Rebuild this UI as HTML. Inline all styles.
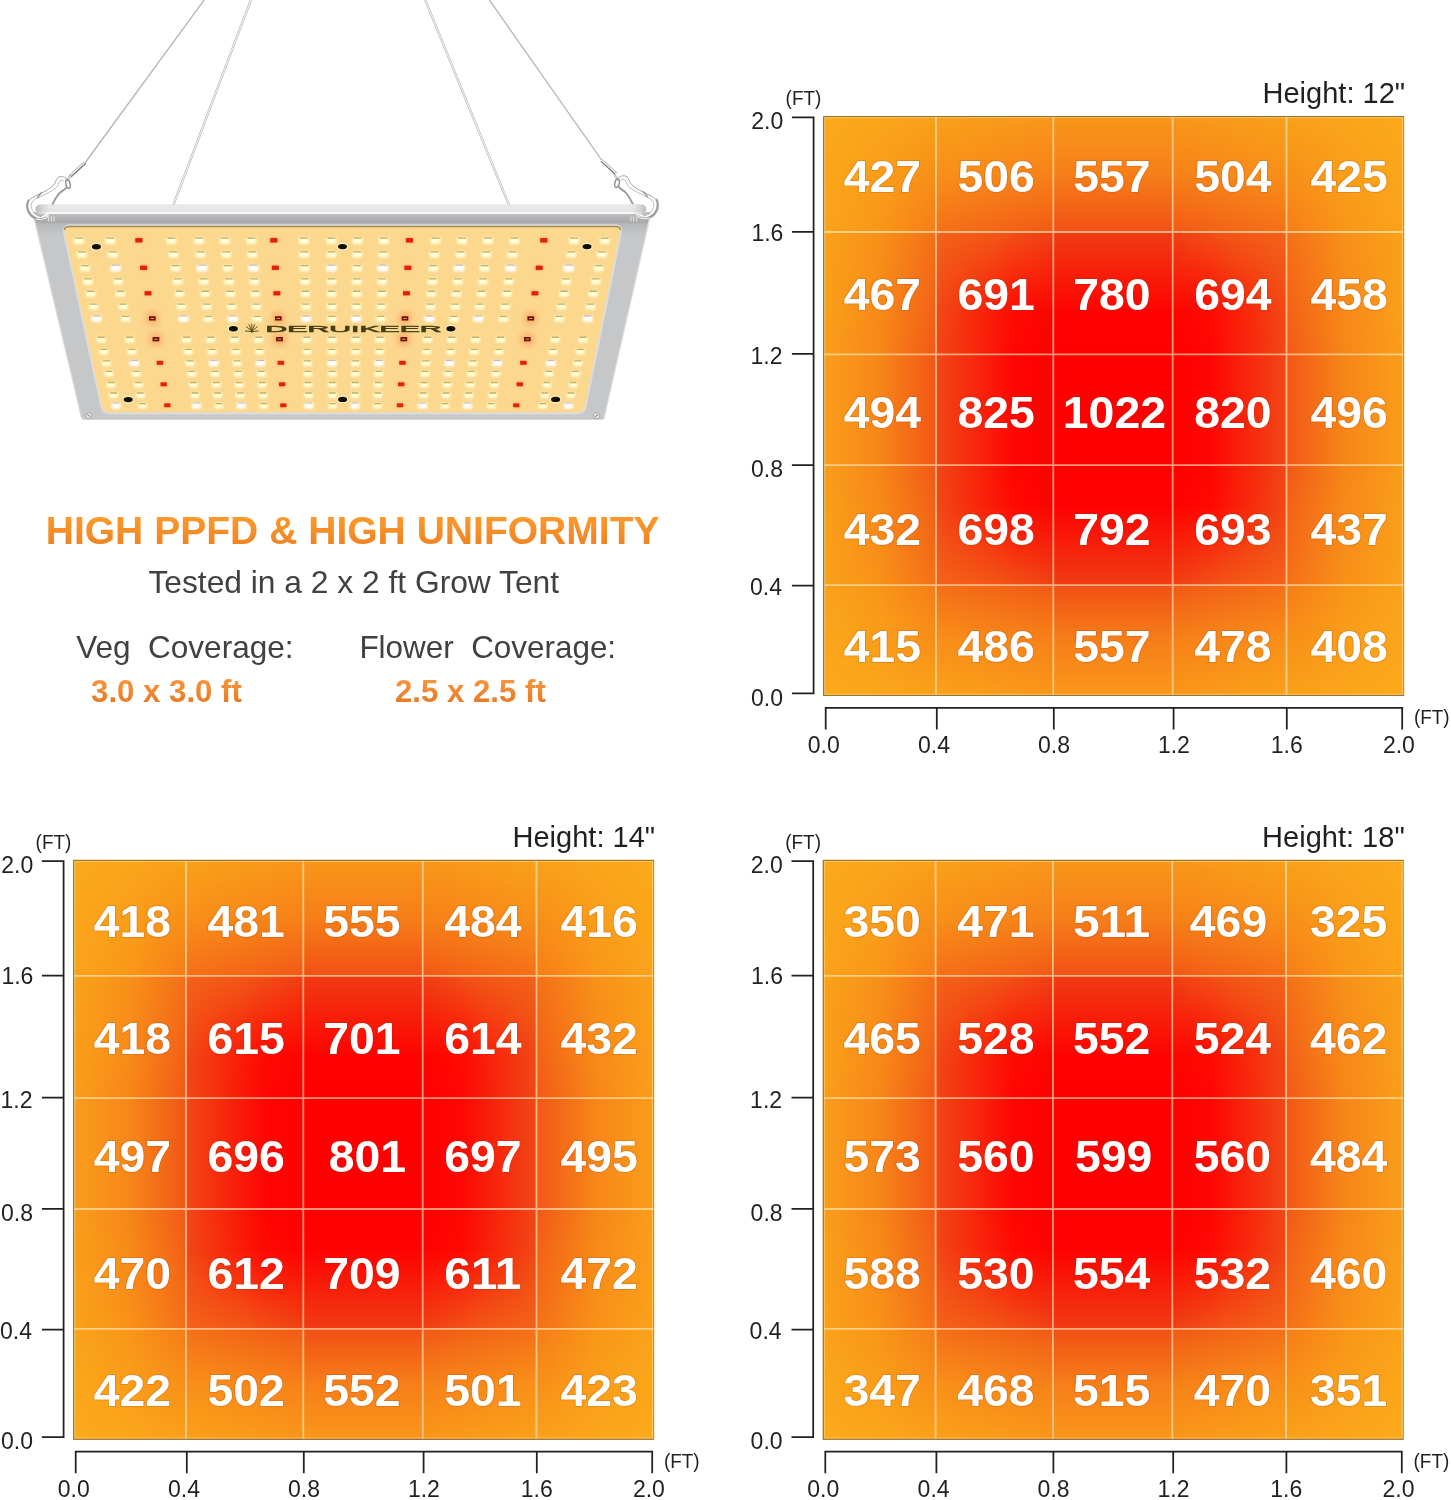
<!DOCTYPE html>
<html lang="en"><head><meta charset="utf-8"><title>High PPFD &amp; High Uniformity</title>
<style>
html,body{margin:0;padding:0;background:#fff}
body{width:1451px;height:1500px;overflow:hidden}
svg{display:block}
text{font-family:"Liberation Sans",Arial,Helvetica,sans-serif;fill:#231f20}
.ax text{font-size:24.4px}
.ft{font-size:21px}
.ht{font-size:28.7px}
.n text{font-size:43.9px;font-weight:bold;fill:#fff;stroke:#8a2a00;stroke-opacity:.22;stroke-width:1.6px;paint-order:stroke}
.h1{font-size:39.06px;font-weight:bold;fill:url(#og)}
.p{fill:#414042}
.b{font-size:31.2px;font-weight:bold;fill:url(#ob)}
</style></head>
<body>
<svg width="1451" height="1500" viewBox="0 0 1451 1500" role="img" aria-label="LED grow light PPFD maps">
<defs>
<linearGradient id="vk" x1="0" y1="0" x2="0" y2="1"><stop offset="0" stop-color="#000000"/><stop offset="1" stop-color="#ffffff"/></linearGradient>
<mask id="mk" maskContentUnits="objectBoundingBox" x="0" y="0" width="1" height="1"><rect x="0" y="0" width="1" height="1" fill="url(#vk)"/></mask>
<linearGradient id="vd" x1="0" y1="0" x2="0" y2="1"><stop offset="0" stop-color="#000000"/><stop offset="0.66" stop-color="#f5f5f5"/><stop offset="1" stop-color="#ffffff"/></linearGradient>
<mask id="md" maskContentUnits="objectBoundingBox" x="0" y="0" width="1" height="1"><rect x="0" y="0" width="1" height="1" fill="url(#vd)"/></mask>
<linearGradient id="vu" x1="0" y1="0" x2="0" y2="1"><stop offset="0" stop-color="#000000"/><stop offset="0.34" stop-color="#0a0a0a"/><stop offset="1" stop-color="#ffffff"/></linearGradient>
<mask id="mu" maskContentUnits="objectBoundingBox" x="0" y="0" width="1" height="1"><rect x="0" y="0" width="1" height="1" fill="url(#vu)"/></mask>
<linearGradient id="ve" x1="0" y1="0" x2="0" y2="1"><stop offset="0" stop-color="#000000"/><stop offset="0.5" stop-color="#575757"/><stop offset="1" stop-color="#ffffff"/></linearGradient>
<mask id="me" maskContentUnits="objectBoundingBox" x="0" y="0" width="1" height="1"><rect x="0" y="0" width="1" height="1" fill="url(#ve)"/></mask>
<linearGradient id="vf" x1="0" y1="0" x2="0" y2="1"><stop offset="0" stop-color="#000000"/><stop offset="0.5" stop-color="#a8a8a8"/><stop offset="1" stop-color="#ffffff"/></linearGradient>
<mask id="mf" maskContentUnits="objectBoundingBox" x="0" y="0" width="1" height="1"><rect x="0" y="0" width="1" height="1" fill="url(#vf)"/></mask>
<linearGradient id="g0"><stop offset="0" stop-color="#fcaa1b"/><stop offset="1" stop-color="#faa11a"/></linearGradient>
<linearGradient id="g1"><stop offset="0" stop-color="#faa31a"/><stop offset=".5" stop-color="#f99619"/><stop offset="1" stop-color="#f67c18"/></linearGradient>
<linearGradient id="g2"><stop offset="0" stop-color="#faa11a"/><stop offset="1" stop-color="#f9971a"/></linearGradient>
<linearGradient id="g3"><stop offset="0" stop-color="#f57018"/><stop offset="1" stop-color="#f25816"/></linearGradient>
<linearGradient id="g4"><stop offset="0" stop-color="#f9971a"/><stop offset="1" stop-color="#faa11a"/></linearGradient>
<linearGradient id="g5"><stop offset="0" stop-color="#f25816"/><stop offset="1" stop-color="#f57018"/></linearGradient>
<linearGradient id="g6"><stop offset="0" stop-color="#faa11a"/><stop offset="1" stop-color="#fcaa1b"/></linearGradient>
<linearGradient id="g7"><stop offset="0" stop-color="#f67c18"/><stop offset=".5" stop-color="#f99619"/><stop offset="1" stop-color="#faa31a"/></linearGradient>
<linearGradient id="g8"><stop offset="0" stop-color="#faa21a"/><stop offset=".5" stop-color="#f89119"/><stop offset="1" stop-color="#f57018"/></linearGradient>
<linearGradient id="g9"><stop offset="0" stop-color="#fa9e1b"/><stop offset=".5" stop-color="#f78619"/><stop offset="1" stop-color="#f25816"/></linearGradient>
<linearGradient id="g10"><stop offset="0" stop-color="#f36418"/><stop offset=".5" stop-color="#f25817"/><stop offset="1" stop-color="#f04014"/></linearGradient>
<linearGradient id="g11"><stop offset="0" stop-color="#f14816"/><stop offset="0.66" stop-color="#fe0703"/><stop offset="1" stop-color="#ff0000"/></linearGradient>
<linearGradient id="g12"><stop offset="0" stop-color="#f04014"/><stop offset=".5" stop-color="#f25817"/><stop offset="1" stop-color="#f36418"/></linearGradient>
<linearGradient id="g13"><stop offset="0" stop-color="#ff0000"/><stop offset="0.34" stop-color="#fe0703"/><stop offset="1" stop-color="#f14816"/></linearGradient>
<linearGradient id="g14"><stop offset="0" stop-color="#f57018"/><stop offset=".5" stop-color="#f89119"/><stop offset="1" stop-color="#faa21a"/></linearGradient>
<linearGradient id="g15"><stop offset="0" stop-color="#f25816"/><stop offset=".5" stop-color="#f78619"/><stop offset="1" stop-color="#fa9e1b"/></linearGradient>
<linearGradient id="g16"><stop offset="0" stop-color="#fa9e1b"/><stop offset=".5" stop-color="#f78619"/><stop offset="1" stop-color="#f25616"/></linearGradient>
<linearGradient id="g17"><stop offset="0" stop-color="#f25616"/><stop offset=".5" stop-color="#f78619"/><stop offset="1" stop-color="#fa9e1b"/></linearGradient>
<g id="chart"><rect x="823.1" y="116" width="113.2" height="116.3" fill="url(#g0)"/><rect x="823.1" y="116" width="113.2" height="116.3" fill="url(#g1)" mask="url(#mk)"/><rect x="935.7" y="116" width="117.9" height="116.3" fill="url(#g2)"/><rect x="935.7" y="116" width="117.9" height="116.3" fill="url(#g3)" mask="url(#me)"/><rect x="1053" y="116" width="120" height="116.3" fill="#f9971a"/><rect x="1053" y="116" width="120" height="116.3" fill="#f15016" mask="url(#me)"/><rect x="1172.4" y="116" width="114.4" height="116.3" fill="url(#g4)"/><rect x="1172.4" y="116" width="114.4" height="116.3" fill="url(#g5)" mask="url(#me)"/><rect x="1286.2" y="116" width="118" height="116.3" fill="url(#g6)"/><rect x="1286.2" y="116" width="118" height="116.3" fill="url(#g7)" mask="url(#mk)"/><rect x="823.1" y="231.7" width="113.2" height="122.9" fill="url(#g8)"/><rect x="823.1" y="231.7" width="113.2" height="122.9" fill="url(#g9)" mask="url(#mk)"/><rect x="935.7" y="231.7" width="117.9" height="122.9" fill="url(#g10)"/><rect x="935.7" y="231.7" width="117.9" height="122.9" fill="url(#g11)" mask="url(#md)"/><rect x="1053" y="231.7" width="120" height="122.9" fill="#f03c14"/><rect x="1053" y="231.7" width="120" height="122.9" fill="#ff0000" mask="url(#md)"/><rect x="1172.4" y="231.7" width="114.4" height="122.9" fill="url(#g12)"/><rect x="1172.4" y="231.7" width="114.4" height="122.9" fill="url(#g13)" mask="url(#md)"/><rect x="1286.2" y="231.7" width="118" height="122.9" fill="url(#g14)"/><rect x="1286.2" y="231.7" width="118" height="122.9" fill="url(#g15)" mask="url(#mk)"/><rect x="823.1" y="354" width="113.2" height="111.5" fill="url(#g16)"/><rect x="935.7" y="354" width="117.9" height="111.5" fill="url(#g11)"/><rect x="1053" y="354" width="120" height="111.5" fill="#ff0000"/><rect x="1172.4" y="354" width="114.4" height="111.5" fill="url(#g13)"/><rect x="1286.2" y="354" width="118" height="111.5" fill="url(#g17)"/><rect x="823.1" y="464.9" width="113.2" height="120.5" fill="url(#g9)"/><rect x="823.1" y="464.9" width="113.2" height="120.5" fill="url(#g8)" mask="url(#mk)"/><rect x="935.7" y="464.9" width="117.9" height="120.5" fill="url(#g11)"/><rect x="935.7" y="464.9" width="117.9" height="120.5" fill="url(#g10)" mask="url(#mu)"/><rect x="1053" y="464.9" width="120" height="120.5" fill="#ff0000"/><rect x="1053" y="464.9" width="120" height="120.5" fill="#f03c14" mask="url(#mu)"/><rect x="1172.4" y="464.9" width="114.4" height="120.5" fill="url(#g13)"/><rect x="1172.4" y="464.9" width="114.4" height="120.5" fill="url(#g12)" mask="url(#mu)"/><rect x="1286.2" y="464.9" width="118" height="120.5" fill="url(#g15)"/><rect x="1286.2" y="464.9" width="118" height="120.5" fill="url(#g14)" mask="url(#mk)"/><rect x="823.1" y="584.8" width="113.2" height="111.2" fill="url(#g1)"/><rect x="823.1" y="584.8" width="113.2" height="111.2" fill="url(#g0)" mask="url(#mk)"/><rect x="935.7" y="584.8" width="117.9" height="111.2" fill="url(#g3)"/><rect x="935.7" y="584.8" width="117.9" height="111.2" fill="url(#g2)" mask="url(#mf)"/><rect x="1053" y="584.8" width="120" height="111.2" fill="#f15016"/><rect x="1053" y="584.8" width="120" height="111.2" fill="#f9971a" mask="url(#mf)"/><rect x="1172.4" y="584.8" width="114.4" height="111.2" fill="url(#g5)"/><rect x="1172.4" y="584.8" width="114.4" height="111.2" fill="url(#g4)" mask="url(#mf)"/><rect x="1286.2" y="584.8" width="118" height="111.2" fill="url(#g7)"/><rect x="1286.2" y="584.8" width="118" height="111.2" fill="url(#g6)" mask="url(#mk)"/><path d="M936 116.3V695.7M1053.3 116.3V695.7M1172.7 116.3V695.7M1286.5 116.3V695.7M823.4 232H1403.9M823.4 354.3H1403.9M823.4 465.2H1403.9M823.4 585.1H1403.9" stroke="#ffefc4" stroke-opacity=".62" stroke-width="1.8" fill="none"/><rect x="824.6" y="117.5" width="578.1" height="577" fill="none" stroke="#fbd58c" stroke-opacity=".7" stroke-width="1.2"/><path d="M823.7 695.4V116.6H1403.9M823.4 695.4H1403.9" fill="none" stroke="#6b5a2a" stroke-opacity=".75" stroke-width="1"/><path d="M1403.6 117.1V694.9" fill="none" stroke="#8a6a20" stroke-opacity=".45" stroke-width="1"/><path d="M813.6 116.5V694.2M791.9 117.4H814.4M791.9 231.9H814.4M791.9 353.9H814.4M791.9 465H814.4M791.9 585.7H814.4M791.9 693.3H814.4M824.8 707.8H1403.1M825.7 707V729.4M936.8 707V729.4M1053.8 707V729.4M1173.6 707V729.4M1286.8 707V729.4M1402.2 707V729.4" stroke="#231f20" stroke-width="1.75" fill="none"/></g>
<linearGradient id="og" gradientUnits="userSpaceOnUse" x1="0" y1="515" x2="0" y2="545"><stop offset="0" stop-color="#fd9a2c"/><stop offset="1" stop-color="#f08323"/></linearGradient>
<linearGradient id="ob" gradientUnits="userSpaceOnUse" x1="0" y1="679" x2="0" y2="703"><stop offset="0" stop-color="#f6963f"/><stop offset="1" stop-color="#e97a26"/></linearGradient>
<linearGradient id="fr" gradientUnits="userSpaceOnUse" x1="0" y1="213.5" x2="0" y2="236"><stop offset="0" stop-color="#bfbfc1"/><stop offset=".38" stop-color="#a9a9ab"/><stop offset=".46" stop-color="#b6b7b9"/><stop offset="1" stop-color="#c6c7c9"/></linearGradient>
<linearGradient id="rm" x1="0" y1="0" x2="0" y2="1"><stop offset="0" stop-color="#dcdcdc"/><stop offset=".12" stop-color="#e9e9eb"/><stop offset=".78" stop-color="#e5e5e7"/><stop offset=".86" stop-color="#fdfdfd"/><stop offset="1" stop-color="#f4f4f4"/></linearGradient>
<linearGradient id="re"><stop offset="0" stop-color="#b4b4b4" stop-opacity=".9"/><stop offset=".024" stop-color="#d2d2d2" stop-opacity="0"/><stop offset=".976" stop-color="#d2d2d2" stop-opacity="0"/><stop offset="1" stop-color="#b4b4b4" stop-opacity=".9"/></linearGradient>
<filter id="b1" x="-5%" y="-5%" width="110%" height="110%"><feGaussianBlur stdDeviation="1.15"/></filter>
<filter id="b3" x="-5%" y="-5%" width="110%" height="110%"><feGaussianBlur stdDeviation="1.8"/></filter>
<filter id="b2" x="-50%" y="-50%" width="200%" height="200%"><feGaussianBlur stdDeviation="3"/></filter>
<filter id="b0" x="-5%" y="-5%" width="110%" height="110%"><feGaussianBlur stdDeviation=".45"/></filter>
</defs>
<g transform="translate(0 0)"><use href="#chart"/><g class="ax"><text x="751.2" y="129.3" textLength="32" lengthAdjust="spacingAndGlyphs">2.0</text><text x="751.4" y="240.5" textLength="32" lengthAdjust="spacingAndGlyphs">1.6</text><text x="750.5" y="363.8" textLength="32" lengthAdjust="spacingAndGlyphs">1.2</text><text x="751" y="476.9" textLength="32" lengthAdjust="spacingAndGlyphs">0.8</text><text x="750" y="594.8" textLength="32" lengthAdjust="spacingAndGlyphs">0.4</text><text x="751" y="705.6" textLength="32" lengthAdjust="spacingAndGlyphs">0.0</text><text x="807.7" y="752.9" textLength="32" lengthAdjust="spacingAndGlyphs">0.0</text><text x="918" y="752.9" textLength="32" lengthAdjust="spacingAndGlyphs">0.4</text><text x="1038" y="752.9" textLength="32" lengthAdjust="spacingAndGlyphs">0.8</text><text x="1157.9" y="752.9" textLength="32" lengthAdjust="spacingAndGlyphs">1.2</text><text x="1270.7" y="752.9" textLength="32" lengthAdjust="spacingAndGlyphs">1.6</text><text x="1382.9" y="752.9" textLength="32" lengthAdjust="spacingAndGlyphs">2.0</text></g><text class="ft" x="785.6" y="105.4" textLength="35.8" lengthAdjust="spacingAndGlyphs">(FT)</text><text class="ft" x="1413.9" y="723.8" textLength="35.8" lengthAdjust="spacingAndGlyphs">(FT)</text><text class="ht" x="1262.5" y="103" textLength="142.6" lengthAdjust="spacingAndGlyphs">Height: 12&quot;</text><g class="n"><text x="843.85" y="192.3" textLength="77.3" lengthAdjust="spacingAndGlyphs">427</text><text x="957.55" y="192.3" textLength="77.3" lengthAdjust="spacingAndGlyphs">506</text><text x="1073.35" y="192.3" textLength="77.3" lengthAdjust="spacingAndGlyphs">557</text><text x="1194.15" y="192.3" textLength="77.3" lengthAdjust="spacingAndGlyphs">504</text><text x="1310.45" y="192.3" textLength="77.3" lengthAdjust="spacingAndGlyphs">425</text><text x="843.85" y="309.9" textLength="77.3" lengthAdjust="spacingAndGlyphs">467</text><text x="957.55" y="309.9" textLength="77.3" lengthAdjust="spacingAndGlyphs">691</text><text x="1073.35" y="309.9" textLength="77.3" lengthAdjust="spacingAndGlyphs">780</text><text x="1194.15" y="309.9" textLength="77.3" lengthAdjust="spacingAndGlyphs">694</text><text x="1310.45" y="309.9" textLength="77.3" lengthAdjust="spacingAndGlyphs">458</text><text x="843.85" y="427.5" textLength="77.3" lengthAdjust="spacingAndGlyphs">494</text><text x="957.55" y="427.5" textLength="77.3" lengthAdjust="spacingAndGlyphs">825</text><text x="1062.8" y="427.5" textLength="103.3" lengthAdjust="spacingAndGlyphs">1022</text><text x="1194.15" y="427.5" textLength="77.3" lengthAdjust="spacingAndGlyphs">820</text><text x="1310.45" y="427.5" textLength="77.3" lengthAdjust="spacingAndGlyphs">496</text><text x="843.85" y="544.8" textLength="77.3" lengthAdjust="spacingAndGlyphs">432</text><text x="957.55" y="544.8" textLength="77.3" lengthAdjust="spacingAndGlyphs">698</text><text x="1073.35" y="544.8" textLength="77.3" lengthAdjust="spacingAndGlyphs">792</text><text x="1194.15" y="544.8" textLength="77.3" lengthAdjust="spacingAndGlyphs">693</text><text x="1310.45" y="544.8" textLength="77.3" lengthAdjust="spacingAndGlyphs">437</text><text x="843.85" y="661.9" textLength="77.3" lengthAdjust="spacingAndGlyphs">415</text><text x="957.55" y="661.9" textLength="77.3" lengthAdjust="spacingAndGlyphs">486</text><text x="1073.35" y="661.9" textLength="77.3" lengthAdjust="spacingAndGlyphs">557</text><text x="1194.15" y="661.9" textLength="77.3" lengthAdjust="spacingAndGlyphs">478</text><text x="1310.45" y="661.9" textLength="77.3" lengthAdjust="spacingAndGlyphs">408</text></g></g>
<g transform="translate(-750 743.8)"><use href="#chart"/><g class="ax"><text x="751.2" y="129.3" textLength="32" lengthAdjust="spacingAndGlyphs">2.0</text><text x="751.4" y="240.5" textLength="32" lengthAdjust="spacingAndGlyphs">1.6</text><text x="750.5" y="363.8" textLength="32" lengthAdjust="spacingAndGlyphs">1.2</text><text x="751" y="476.9" textLength="32" lengthAdjust="spacingAndGlyphs">0.8</text><text x="750" y="594.8" textLength="32" lengthAdjust="spacingAndGlyphs">0.4</text><text x="751" y="705.6" textLength="32" lengthAdjust="spacingAndGlyphs">0.0</text><text x="807.7" y="752.9" textLength="32" lengthAdjust="spacingAndGlyphs">0.0</text><text x="918" y="752.9" textLength="32" lengthAdjust="spacingAndGlyphs">0.4</text><text x="1038" y="752.9" textLength="32" lengthAdjust="spacingAndGlyphs">0.8</text><text x="1157.9" y="752.9" textLength="32" lengthAdjust="spacingAndGlyphs">1.2</text><text x="1270.7" y="752.9" textLength="32" lengthAdjust="spacingAndGlyphs">1.6</text><text x="1382.9" y="752.9" textLength="32" lengthAdjust="spacingAndGlyphs">2.0</text></g><text class="ft" x="785.6" y="105.4" textLength="35.8" lengthAdjust="spacingAndGlyphs">(FT)</text><text class="ft" x="1413.9" y="723.8" textLength="35.8" lengthAdjust="spacingAndGlyphs">(FT)</text><text class="ht" x="1262.5" y="103" textLength="142.6" lengthAdjust="spacingAndGlyphs">Height: 14&quot;</text><g class="n"><text x="843.85" y="193" textLength="77.3" lengthAdjust="spacingAndGlyphs">418</text><text x="957.55" y="193" textLength="77.3" lengthAdjust="spacingAndGlyphs">481</text><text x="1073.35" y="193" textLength="77.3" lengthAdjust="spacingAndGlyphs">555</text><text x="1194.15" y="193" textLength="77.3" lengthAdjust="spacingAndGlyphs">484</text><text x="1310.45" y="193" textLength="77.3" lengthAdjust="spacingAndGlyphs">416</text><text x="843.85" y="310.6" textLength="77.3" lengthAdjust="spacingAndGlyphs">418</text><text x="957.55" y="310.6" textLength="77.3" lengthAdjust="spacingAndGlyphs">615</text><text x="1073.35" y="310.6" textLength="77.3" lengthAdjust="spacingAndGlyphs">701</text><text x="1194.15" y="310.6" textLength="77.3" lengthAdjust="spacingAndGlyphs">614</text><text x="1310.45" y="310.6" textLength="77.3" lengthAdjust="spacingAndGlyphs">432</text><text x="843.85" y="428.2" textLength="77.3" lengthAdjust="spacingAndGlyphs">497</text><text x="957.55" y="428.2" textLength="77.3" lengthAdjust="spacingAndGlyphs">696</text><text x="1078.65" y="428.2" textLength="77.3" lengthAdjust="spacingAndGlyphs">801</text><text x="1194.15" y="428.2" textLength="77.3" lengthAdjust="spacingAndGlyphs">697</text><text x="1310.45" y="428.2" textLength="77.3" lengthAdjust="spacingAndGlyphs">495</text><text x="843.85" y="545.5" textLength="77.3" lengthAdjust="spacingAndGlyphs">470</text><text x="957.55" y="545.5" textLength="77.3" lengthAdjust="spacingAndGlyphs">612</text><text x="1073.35" y="545.5" textLength="77.3" lengthAdjust="spacingAndGlyphs">709</text><text x="1194.15" y="545.5" textLength="77.3" lengthAdjust="spacingAndGlyphs">611</text><text x="1310.45" y="545.5" textLength="77.3" lengthAdjust="spacingAndGlyphs">472</text><text x="843.85" y="662.6" textLength="77.3" lengthAdjust="spacingAndGlyphs">422</text><text x="957.55" y="662.6" textLength="77.3" lengthAdjust="spacingAndGlyphs">502</text><text x="1073.35" y="662.6" textLength="77.3" lengthAdjust="spacingAndGlyphs">552</text><text x="1194.15" y="662.6" textLength="77.3" lengthAdjust="spacingAndGlyphs">501</text><text x="1310.45" y="662.6" textLength="77.3" lengthAdjust="spacingAndGlyphs">423</text></g></g>
<g transform="translate(-0.4 743.8)"><use href="#chart"/><g class="ax"><text x="751.2" y="129.3" textLength="32" lengthAdjust="spacingAndGlyphs">2.0</text><text x="751.4" y="240.5" textLength="32" lengthAdjust="spacingAndGlyphs">1.6</text><text x="750.5" y="363.8" textLength="32" lengthAdjust="spacingAndGlyphs">1.2</text><text x="751" y="476.9" textLength="32" lengthAdjust="spacingAndGlyphs">0.8</text><text x="750" y="594.8" textLength="32" lengthAdjust="spacingAndGlyphs">0.4</text><text x="751" y="705.6" textLength="32" lengthAdjust="spacingAndGlyphs">0.0</text><text x="807.7" y="752.9" textLength="32" lengthAdjust="spacingAndGlyphs">0.0</text><text x="918" y="752.9" textLength="32" lengthAdjust="spacingAndGlyphs">0.4</text><text x="1038" y="752.9" textLength="32" lengthAdjust="spacingAndGlyphs">0.8</text><text x="1157.9" y="752.9" textLength="32" lengthAdjust="spacingAndGlyphs">1.2</text><text x="1270.7" y="752.9" textLength="32" lengthAdjust="spacingAndGlyphs">1.6</text><text x="1382.9" y="752.9" textLength="32" lengthAdjust="spacingAndGlyphs">2.0</text></g><text class="ft" x="785.6" y="105.4" textLength="35.8" lengthAdjust="spacingAndGlyphs">(FT)</text><text class="ft" x="1413.9" y="723.8" textLength="35.8" lengthAdjust="spacingAndGlyphs">(FT)</text><text class="ht" x="1262.5" y="103" textLength="142.6" lengthAdjust="spacingAndGlyphs">Height: 18&quot;</text><g class="n"><text x="843.85" y="193" textLength="77.3" lengthAdjust="spacingAndGlyphs">350</text><text x="957.55" y="193" textLength="77.3" lengthAdjust="spacingAndGlyphs">471</text><text x="1073.35" y="193" textLength="77.3" lengthAdjust="spacingAndGlyphs">511</text><text x="1190.25" y="193" textLength="77.3" lengthAdjust="spacingAndGlyphs">469</text><text x="1310.45" y="193" textLength="77.3" lengthAdjust="spacingAndGlyphs">325</text><text x="843.85" y="310.6" textLength="77.3" lengthAdjust="spacingAndGlyphs">465</text><text x="957.55" y="310.6" textLength="77.3" lengthAdjust="spacingAndGlyphs">528</text><text x="1073.35" y="310.6" textLength="77.3" lengthAdjust="spacingAndGlyphs">552</text><text x="1194.15" y="310.6" textLength="77.3" lengthAdjust="spacingAndGlyphs">524</text><text x="1310.45" y="310.6" textLength="77.3" lengthAdjust="spacingAndGlyphs">462</text><text x="843.85" y="428.2" textLength="77.3" lengthAdjust="spacingAndGlyphs">573</text><text x="957.55" y="428.2" textLength="77.3" lengthAdjust="spacingAndGlyphs">560</text><text x="1075.45" y="428.2" textLength="77.3" lengthAdjust="spacingAndGlyphs">599</text><text x="1194.15" y="428.2" textLength="77.3" lengthAdjust="spacingAndGlyphs">560</text><text x="1310.45" y="428.2" textLength="77.3" lengthAdjust="spacingAndGlyphs">484</text><text x="843.85" y="545.5" textLength="77.3" lengthAdjust="spacingAndGlyphs">588</text><text x="957.55" y="545.5" textLength="77.3" lengthAdjust="spacingAndGlyphs">530</text><text x="1073.35" y="545.5" textLength="77.3" lengthAdjust="spacingAndGlyphs">554</text><text x="1194.15" y="545.5" textLength="77.3" lengthAdjust="spacingAndGlyphs">532</text><text x="1310.45" y="545.5" textLength="77.3" lengthAdjust="spacingAndGlyphs">460</text><text x="843.85" y="662.6" textLength="77.3" lengthAdjust="spacingAndGlyphs">347</text><text x="957.55" y="662.6" textLength="77.3" lengthAdjust="spacingAndGlyphs">468</text><text x="1073.35" y="662.6" textLength="77.3" lengthAdjust="spacingAndGlyphs">515</text><text x="1194.15" y="662.6" textLength="77.3" lengthAdjust="spacingAndGlyphs">470</text><text x="1310.45" y="662.6" textLength="77.3" lengthAdjust="spacingAndGlyphs">351</text></g></g>
<text class="h1" x="45.7" y="543.5">HIGH PPFD &amp; HIGH UNIFORMITY</text>
<text class="p" x="148.45" y="592.8" font-size="31.75">Tested in a 2 x 2 ft Grow Tent</text>
<text class="p" x="76.15" y="658" font-size="31.54" xml:space="preserve" style="white-space:pre">Veg  Coverage:</text>
<text class="p" x="359.4" y="658" font-size="31.43" xml:space="preserve" style="white-space:pre">Flower  Coverage:</text>
<text class="b" x="91.05" y="701.6">3.0 x 3.0 ft</text>
<text class="b" x="395" y="701.6">2.5 x 2.5 ft</text>
<g id="lamp"><g fill="none" stroke-linecap="round"><path d="M251.6 -2L173 206M424.4 -2L509.4 206" stroke="#b9b9b9" stroke-width="2.3"/><path d="M251.6 -2L173 206M424.4 -2L509.4 206" stroke="#fff" stroke-width="0.9"/><path d="M205.6 -2L84.9 163M488 -2L602 160.5" stroke="#b4b4b4" stroke-width="1.3"/><path d="M85 162.6L70 176.4M601.6 160.4L616 173.6" stroke="#a2a2a2" stroke-width="3.2" stroke-linecap="butt"/><path d="M85 162.6L70 176.4M601.6 160.4L616 173.6" stroke="#fff" stroke-width="1.7" stroke-linecap="butt"/><path d="M85.7 163.3L71 176.8M600.9 161.1L615.3 174.3" stroke="#7c7c7c" stroke-width="1.2" stroke-linecap="butt"/></g><path d="M33 212H650.6L604.6 417.6Q604.2 419.7 602 419.7H84Q81.6 419.7 81.2 417.6Z" fill="url(#fr)"/><path d="M34.2 219L81.6 418M649.6 219L604 418" stroke="#dcdcdc" stroke-width="1.2" fill="none"/><path d="M48.4 216.6v5M51.4 216.2v5.4M54 216.6v4.6M636.6 216.6v5M633.6 216.2v5.4M631 216.6v4.6" stroke="#e3e3e3" stroke-width="1.1" fill="none"/><g fill="#ececec" stroke="#a2a2a2" stroke-width=".9"><circle cx="88.6" cy="415.6" r="2.9"/><circle cx="596.6" cy="415.8" r="3"/></g><path d="M87.2 414.4l2.8 2.2M595.2 416.8l2.8-2" stroke="#8a8a8a" stroke-width="1.1" fill="none"/><g id="hk" stroke-linecap="round" stroke-linejoin="round"><path d="M29.6 201.6C28 205 28.4 209 30.2 212.2C32.2 215.6 35.6 217.8 39.6 218.2C42.6 218.4 45.4 217 47 215.2" stroke="#fff" stroke-width="3.4" fill="none"/><path d="M66.6 178.9C64.4 176.4 60.6 175.6 58 177.6C55.6 179.5 55.6 183.4 53.2 185.6C49 189.4 43.4 192.4 38 194.7C34 196.4 30.6 198.2 29 200.6C27.2 203.4 27.4 207.4 28.8 210.4C30.6 214.4 34 217.2 38.6 218.5C42 219.4 45.4 217.6 47 215.6" stroke="#a4a4a4" stroke-width="1" fill="none"/><path d="M63.6 180.6C61.6 179.6 59.8 180.4 59 182.4C58.2 184.6 57.4 186.6 55.4 188.2C51 191.6 45.6 194.2 40.4 196.6C36.6 198.4 33.4 199.8 32 202.2C30.6 204.8 31 208 32.6 210.6C34.6 213.8 37.6 216 41.4 216.8" stroke="#b4b4b4" stroke-width=".9" fill="none"/><path d="M28.4 200.4C26.6 204 26.8 208.4 28.6 212C30 214.8 32.4 217 35.2 218.2" stroke="#a0a0a0" stroke-width="2.1" fill="none"/><path d="M66 188C64 190.4 60.8 191.4 58.8 193.8C56.2 197 54.2 200.6 52.4 204.4" stroke="#9a9a9a" stroke-width="1.9" fill="none"/><path d="M70.4 176L67 180.4" stroke="#a8a8a8" stroke-width="2.2" fill="none"/><path d="M70.4 176L67 180.4" stroke="#fff" stroke-width=".8" fill="none"/><ellipse cx="68" cy="184" rx="2.2" ry="4.3" transform="rotate(-12 68 184)" stroke="#949494" stroke-width="1.5" fill="none"/><path d="M37.4 197.6L41.4 192.6" stroke="#8e8e8e" stroke-width="1.3" fill="none"/></g><use href="#hk" transform="translate(685 -0.8) scale(-1 1)"/><rect x="35.6" y="204.4" width="610.6" height="9.6" rx="4.8" fill="url(#rm)"/><rect x="35.6" y="204.4" width="610.6" height="9.6" rx="4.8" fill="url(#re)"/><path d="M69.9 226H614.9Q621.4 226 620.11 232.37L584.89 406.23Q583.6 412.6 577.1 412.6H109.9Q103.4 412.6 102.04 406.24L64.76 232.36Q63.4 226 69.9 226Z" fill="#fcd88f" stroke="#dadcdf" stroke-width="3.6"/><path d="M69.9 226H614.9Q621.4 226 620.11 232.37L584.89 406.23Q583.6 412.6 577.1 412.6H109.9Q103.4 412.6 102.04 406.24L64.76 232.36Q63.4 226 69.9 226Z" fill="#fcd88f"/><path d="M64.52 230.11Q64 226.6 69.9 226.6H614.9Q620.8 226.6 620.33 230.12" stroke="#9a7f48" stroke-width="1.5" fill="none" stroke-opacity=".85"/><g fill="#f58a4a" fill-opacity=".5" filter="url(#b2)"><circle cx="152.34" cy="318.4" r="7"/><circle cx="278.3" cy="318.4" r="7"/><circle cx="405" cy="318.4" r="7"/><circle cx="530.78" cy="318.4" r="7"/><circle cx="155.92" cy="339.2" r="7"/><circle cx="279.49" cy="339.2" r="7"/><circle cx="403.81" cy="339.2" r="7"/><circle cx="527.32" cy="339.2" r="7"/></g><g filter="url(#b1)"><g fill="#ffffd8"><rect x="73.9" y="237.7" width="9.8" height="6.2" rx="1.6"/><rect x="105.4" y="237.7" width="9.8" height="6.2" rx="1.6"/><rect x="166.4" y="237.7" width="9.8" height="6.2" rx="1.6"/><rect x="193.9" y="237.7" width="9.8" height="6.2" rx="1.6"/><rect x="220.1" y="237.7" width="9.8" height="6.2" rx="1.6"/><rect x="246.4" y="237.7" width="9.8" height="6.2" rx="1.6"/><rect x="298.9" y="237.7" width="9.8" height="6.2" rx="1.6"/><rect x="326.4" y="237.7" width="9.8" height="6.2" rx="1.6"/><rect x="352.6" y="237.7" width="9.8" height="6.2" rx="1.6"/><rect x="378.9" y="237.7" width="9.8" height="6.2" rx="1.6"/><rect x="430.6" y="237.7" width="9.8" height="6.2" rx="1.6"/><rect x="457.1" y="237.7" width="9.8" height="6.2" rx="1.6"/><rect x="483.1" y="237.7" width="9.8" height="6.2" rx="1.6"/><rect x="509.6" y="237.7" width="9.8" height="6.2" rx="1.6"/><rect x="569" y="237.7" width="9.8" height="6.2" rx="1.6"/><rect x="599.9" y="237.7" width="9.8" height="6.2" rx="1.6"/><rect x="77.05" y="251.44" width="9.69" height="6.13" rx="1.6"/><rect x="108.13" y="251.44" width="9.69" height="6.13" rx="1.6"/><rect x="168.56" y="251.44" width="9.69" height="6.13" rx="1.6"/><rect x="195.62" y="251.44" width="9.69" height="6.13" rx="1.6"/><rect x="221.51" y="251.44" width="9.69" height="6.13" rx="1.6"/><rect x="247.49" y="251.44" width="9.69" height="6.13" rx="1.6"/><rect x="299.37" y="251.44" width="9.69" height="6.13" rx="1.6"/><rect x="326.56" y="251.44" width="9.69" height="6.13" rx="1.6"/><rect x="352.45" y="251.44" width="9.69" height="6.13" rx="1.6"/><rect x="378.43" y="251.44" width="9.69" height="6.13" rx="1.6"/><rect x="429.58" y="251.44" width="9.69" height="6.13" rx="1.6"/><rect x="455.75" y="251.44" width="9.69" height="6.13" rx="1.6"/><rect x="481.45" y="251.44" width="9.69" height="6.13" rx="1.6"/><rect x="507.73" y="251.44" width="9.69" height="6.13" rx="1.6"/><rect x="566.47" y="251.44" width="9.69" height="6.13" rx="1.6"/><rect x="596.93" y="251.44" width="9.69" height="6.13" rx="1.6"/><rect x="80.23" y="265.27" width="9.57" height="6.06" rx="1.6"/><rect x="170.73" y="265.27" width="9.57" height="6.06" rx="1.6"/><rect x="222.93" y="265.27" width="9.57" height="6.06" rx="1.6"/><rect x="299.85" y="265.27" width="9.57" height="6.06" rx="1.6"/><rect x="352.3" y="265.27" width="9.57" height="6.06" rx="1.6"/><rect x="428.55" y="265.27" width="9.57" height="6.06" rx="1.6"/><rect x="479.8" y="265.27" width="9.57" height="6.06" rx="1.6"/><rect x="593.95" y="265.27" width="9.57" height="6.06" rx="1.6"/><rect x="83.27" y="278.51" width="9.46" height="5.99" rx="1.6"/><rect x="113.51" y="278.51" width="9.46" height="5.99" rx="1.6"/><rect x="172.81" y="278.51" width="9.46" height="5.99" rx="1.6"/><rect x="199" y="278.51" width="9.46" height="5.99" rx="1.6"/><rect x="224.29" y="278.51" width="9.46" height="5.99" rx="1.6"/><rect x="249.65" y="278.51" width="9.46" height="5.99" rx="1.6"/><rect x="300.3" y="278.51" width="9.46" height="5.99" rx="1.6"/><rect x="326.87" y="278.51" width="9.46" height="5.99" rx="1.6"/><rect x="352.15" y="278.51" width="9.46" height="5.99" rx="1.6"/><rect x="377.52" y="278.51" width="9.46" height="5.99" rx="1.6"/><rect x="427.56" y="278.51" width="9.46" height="5.99" rx="1.6"/><rect x="453.08" y="278.51" width="9.46" height="5.99" rx="1.6"/><rect x="478.21" y="278.51" width="9.46" height="5.99" rx="1.6"/><rect x="504.05" y="278.51" width="9.46" height="5.99" rx="1.6"/><rect x="561.5" y="278.51" width="9.46" height="5.99" rx="1.6"/><rect x="591.09" y="278.51" width="9.46" height="5.99" rx="1.6"/><rect x="86.1" y="290.84" width="9.36" height="5.92" rx="1.6"/><rect x="115.96" y="290.84" width="9.36" height="5.92" rx="1.6"/><rect x="174.75" y="290.84" width="9.36" height="5.92" rx="1.6"/><rect x="200.54" y="290.84" width="9.36" height="5.92" rx="1.6"/><rect x="225.56" y="290.84" width="9.36" height="5.92" rx="1.6"/><rect x="250.64" y="290.84" width="9.36" height="5.92" rx="1.6"/><rect x="300.73" y="290.84" width="9.36" height="5.92" rx="1.6"/><rect x="327.01" y="290.84" width="9.36" height="5.92" rx="1.6"/><rect x="352.02" y="290.84" width="9.36" height="5.92" rx="1.6"/><rect x="377.1" y="290.84" width="9.36" height="5.92" rx="1.6"/><rect x="426.64" y="290.84" width="9.36" height="5.92" rx="1.6"/><rect x="451.86" y="290.84" width="9.36" height="5.92" rx="1.6"/><rect x="476.74" y="290.84" width="9.36" height="5.92" rx="1.6"/><rect x="502.37" y="290.84" width="9.36" height="5.92" rx="1.6"/><rect x="559.23" y="290.84" width="9.36" height="5.92" rx="1.6"/><rect x="588.43" y="290.84" width="9.36" height="5.92" rx="1.6"/><rect x="89.07" y="303.77" width="9.25" height="5.85" rx="1.6"/><rect x="118.53" y="303.77" width="9.25" height="5.85" rx="1.6"/><rect x="176.78" y="303.77" width="9.25" height="5.85" rx="1.6"/><rect x="202.16" y="303.77" width="9.25" height="5.85" rx="1.6"/><rect x="226.88" y="303.77" width="9.25" height="5.85" rx="1.6"/><rect x="251.67" y="303.77" width="9.25" height="5.85" rx="1.6"/><rect x="301.17" y="303.77" width="9.25" height="5.85" rx="1.6"/><rect x="327.15" y="303.77" width="9.25" height="5.85" rx="1.6"/><rect x="351.88" y="303.77" width="9.25" height="5.85" rx="1.6"/><rect x="376.66" y="303.77" width="9.25" height="5.85" rx="1.6"/><rect x="425.68" y="303.77" width="9.25" height="5.85" rx="1.6"/><rect x="450.58" y="303.77" width="9.25" height="5.85" rx="1.6"/><rect x="475.19" y="303.77" width="9.25" height="5.85" rx="1.6"/><rect x="500.61" y="303.77" width="9.25" height="5.85" rx="1.6"/><rect x="556.85" y="303.77" width="9.25" height="5.85" rx="1.6"/><rect x="585.64" y="303.77" width="9.25" height="5.85" rx="1.6"/><rect x="120.97" y="316.01" width="9.15" height="5.79" rx="1.6"/><rect x="203.69" y="316.01" width="9.15" height="5.79" rx="1.6"/><rect x="252.64" y="316.01" width="9.15" height="5.79" rx="1.6"/><rect x="327.29" y="316.01" width="9.15" height="5.79" rx="1.6"/><rect x="376.24" y="316.01" width="9.15" height="5.79" rx="1.6"/><rect x="449.38" y="316.01" width="9.15" height="5.79" rx="1.6"/><rect x="498.94" y="316.01" width="9.15" height="5.79" rx="1.6"/><rect x="554.6" y="316.01" width="9.15" height="5.79" rx="1.6"/><rect x="96.67" y="336.86" width="8.98" height="5.68" rx="1.6"/><rect x="125.11" y="336.86" width="8.98" height="5.68" rx="1.6"/><rect x="181.98" y="336.86" width="8.98" height="5.68" rx="1.6"/><rect x="206.3" y="336.86" width="8.98" height="5.68" rx="1.6"/><rect x="230.28" y="336.86" width="8.98" height="5.68" rx="1.6"/><rect x="254.3" y="336.86" width="8.98" height="5.68" rx="1.6"/><rect x="302.31" y="336.86" width="8.98" height="5.68" rx="1.6"/><rect x="327.53" y="336.86" width="8.98" height="5.68" rx="1.6"/><rect x="351.51" y="336.86" width="8.98" height="5.68" rx="1.6"/><rect x="375.54" y="336.86" width="8.98" height="5.68" rx="1.6"/><rect x="423.22" y="336.86" width="8.98" height="5.68" rx="1.6"/><rect x="447.32" y="336.86" width="8.98" height="5.68" rx="1.6"/><rect x="471.22" y="336.86" width="8.98" height="5.68" rx="1.6"/><rect x="496.11" y="336.86" width="8.98" height="5.68" rx="1.6"/><rect x="550.77" y="336.86" width="8.98" height="5.68" rx="1.6"/><rect x="578.49" y="336.86" width="8.98" height="5.68" rx="1.6"/><rect x="99.45" y="348.99" width="8.88" height="5.62" rx="1.6"/><rect x="127.52" y="348.99" width="8.88" height="5.62" rx="1.6"/><rect x="183.88" y="348.99" width="8.88" height="5.62" rx="1.6"/><rect x="207.82" y="348.99" width="8.88" height="5.62" rx="1.6"/><rect x="231.53" y="348.99" width="8.88" height="5.62" rx="1.6"/><rect x="255.27" y="348.99" width="8.88" height="5.62" rx="1.6"/><rect x="302.73" y="348.99" width="8.88" height="5.62" rx="1.6"/><rect x="327.67" y="348.99" width="8.88" height="5.62" rx="1.6"/><rect x="351.38" y="348.99" width="8.88" height="5.62" rx="1.6"/><rect x="375.12" y="348.99" width="8.88" height="5.62" rx="1.6"/><rect x="422.32" y="348.99" width="8.88" height="5.62" rx="1.6"/><rect x="446.13" y="348.99" width="8.88" height="5.62" rx="1.6"/><rect x="469.77" y="348.99" width="8.88" height="5.62" rx="1.6"/><rect x="494.45" y="348.99" width="8.88" height="5.62" rx="1.6"/><rect x="548.54" y="348.99" width="8.88" height="5.62" rx="1.6"/><rect x="575.87" y="348.99" width="8.88" height="5.62" rx="1.6"/><rect x="102.1" y="360.52" width="8.78" height="5.56" rx="1.6"/><rect x="185.69" y="360.52" width="8.78" height="5.56" rx="1.6"/><rect x="232.71" y="360.52" width="8.78" height="5.56" rx="1.6"/><rect x="303.12" y="360.52" width="8.78" height="5.56" rx="1.6"/><rect x="351.25" y="360.52" width="8.78" height="5.56" rx="1.6"/><rect x="421.46" y="360.52" width="8.78" height="5.56" rx="1.6"/><rect x="468.39" y="360.52" width="8.78" height="5.56" rx="1.6"/><rect x="573.39" y="360.52" width="8.78" height="5.56" rx="1.6"/><rect x="104.52" y="371.05" width="8.69" height="5.5" rx="1.6"/><rect x="131.91" y="371.05" width="8.69" height="5.5" rx="1.6"/><rect x="187.35" y="371.05" width="8.69" height="5.5" rx="1.6"/><rect x="210.57" y="371.05" width="8.69" height="5.5" rx="1.6"/><rect x="233.79" y="371.05" width="8.69" height="5.5" rx="1.6"/><rect x="257.03" y="371.05" width="8.69" height="5.5" rx="1.6"/><rect x="303.48" y="371.05" width="8.69" height="5.5" rx="1.6"/><rect x="327.92" y="371.05" width="8.69" height="5.5" rx="1.6"/><rect x="351.14" y="371.05" width="8.69" height="5.5" rx="1.6"/><rect x="374.37" y="371.05" width="8.69" height="5.5" rx="1.6"/><rect x="420.67" y="371.05" width="8.69" height="5.5" rx="1.6"/><rect x="443.95" y="371.05" width="8.69" height="5.5" rx="1.6"/><rect x="467.13" y="371.05" width="8.69" height="5.5" rx="1.6"/><rect x="491.45" y="371.05" width="8.69" height="5.5" rx="1.6"/><rect x="544.48" y="371.05" width="8.69" height="5.5" rx="1.6"/><rect x="571.11" y="371.05" width="8.69" height="5.5" rx="1.6"/><rect x="107.05" y="382.08" width="8.6" height="5.44" rx="1.6"/><rect x="134.1" y="382.08" width="8.6" height="5.44" rx="1.6"/><rect x="189.08" y="382.08" width="8.6" height="5.44" rx="1.6"/><rect x="211.95" y="382.08" width="8.6" height="5.44" rx="1.6"/><rect x="234.92" y="382.08" width="8.6" height="5.44" rx="1.6"/><rect x="257.91" y="382.08" width="8.6" height="5.44" rx="1.6"/><rect x="303.86" y="382.08" width="8.6" height="5.44" rx="1.6"/><rect x="328.05" y="382.08" width="8.6" height="5.44" rx="1.6"/><rect x="351.02" y="382.08" width="8.6" height="5.44" rx="1.6"/><rect x="374" y="382.08" width="8.6" height="5.44" rx="1.6"/><rect x="419.85" y="382.08" width="8.6" height="5.44" rx="1.6"/><rect x="442.86" y="382.08" width="8.6" height="5.44" rx="1.6"/><rect x="465.81" y="382.08" width="8.6" height="5.44" rx="1.6"/><rect x="489.95" y="382.08" width="8.6" height="5.44" rx="1.6"/><rect x="542.46" y="382.08" width="8.6" height="5.44" rx="1.6"/><rect x="568.73" y="382.08" width="8.6" height="5.44" rx="1.6"/><rect x="109.47" y="392.61" width="8.52" height="5.39" rx="1.6"/><rect x="136.19" y="392.61" width="8.52" height="5.39" rx="1.6"/><rect x="190.73" y="392.61" width="8.52" height="5.39" rx="1.6"/><rect x="213.27" y="392.61" width="8.52" height="5.39" rx="1.6"/><rect x="236.01" y="392.61" width="8.52" height="5.39" rx="1.6"/><rect x="258.75" y="392.61" width="8.52" height="5.39" rx="1.6"/><rect x="304.22" y="392.61" width="8.52" height="5.39" rx="1.6"/><rect x="328.17" y="392.61" width="8.52" height="5.39" rx="1.6"/><rect x="350.9" y="392.61" width="8.52" height="5.39" rx="1.6"/><rect x="373.64" y="392.61" width="8.52" height="5.39" rx="1.6"/><rect x="419.07" y="392.61" width="8.52" height="5.39" rx="1.6"/><rect x="441.82" y="392.61" width="8.52" height="5.39" rx="1.6"/><rect x="464.55" y="392.61" width="8.52" height="5.39" rx="1.6"/><rect x="488.52" y="392.61" width="8.52" height="5.39" rx="1.6"/><rect x="540.52" y="392.61" width="8.52" height="5.39" rx="1.6"/><rect x="566.46" y="392.61" width="8.52" height="5.39" rx="1.6"/><rect x="138.29" y="403.13" width="8.43" height="5.33" rx="1.6"/><rect x="214.59" y="403.13" width="8.43" height="5.33" rx="1.6"/><rect x="259.59" y="403.13" width="8.43" height="5.33" rx="1.6"/><rect x="328.29" y="403.13" width="8.43" height="5.33" rx="1.6"/><rect x="373.29" y="403.13" width="8.43" height="5.33" rx="1.6"/><rect x="440.79" y="403.13" width="8.43" height="5.33" rx="1.6"/><rect x="487.09" y="403.13" width="8.43" height="5.33" rx="1.6"/><rect x="538.59" y="403.13" width="8.43" height="5.33" rx="1.6"/></g><g fill="#fff"><rect x="110.39" y="264.88" width="10.55" height="6.64" rx="2"/><rect x="196.86" y="264.88" width="10.55" height="6.64" rx="2"/><rect x="248.11" y="264.88" width="10.55" height="6.64" rx="2"/><rect x="326.23" y="264.88" width="10.55" height="6.64" rx="2"/><rect x="377.48" y="264.88" width="10.55" height="6.64" rx="2"/><rect x="453.89" y="264.88" width="10.55" height="6.64" rx="2"/><rect x="505.36" y="264.88" width="10.55" height="6.64" rx="2"/><rect x="563.44" y="264.88" width="10.55" height="6.64" rx="2"/><rect x="91.41" y="315.63" width="10.08" height="6.35" rx="2"/><rect x="178.23" y="315.63" width="10.08" height="6.35" rx="2"/><rect x="227.67" y="315.63" width="10.08" height="6.35" rx="2"/><rect x="301.12" y="315.63" width="10.08" height="6.35" rx="2"/><rect x="351.27" y="315.63" width="10.08" height="6.35" rx="2"/><rect x="424.3" y="315.63" width="10.08" height="6.35" rx="2"/><rect x="473.25" y="315.63" width="10.08" height="6.35" rx="2"/><rect x="582.53" y="315.63" width="10.08" height="6.35" rx="2"/><rect x="129.37" y="360.15" width="9.68" height="6.09" rx="2"/><rect x="208.81" y="360.15" width="9.68" height="6.09" rx="2"/><rect x="255.74" y="360.15" width="9.68" height="6.09" rx="2"/><rect x="327.35" y="360.15" width="9.68" height="6.09" rx="2"/><rect x="374.28" y="360.15" width="9.68" height="6.09" rx="2"/><rect x="444.54" y="360.15" width="9.68" height="6.09" rx="2"/><rect x="492.44" y="360.15" width="9.68" height="6.09" rx="2"/><rect x="545.97" y="360.15" width="9.68" height="6.09" rx="2"/><rect x="111.46" y="402.78" width="9.29" height="5.85" rx="2"/><rect x="191.96" y="402.78" width="9.29" height="5.85" rx="2"/><rect x="236.66" y="402.78" width="9.29" height="5.85" rx="2"/><rect x="304.16" y="402.78" width="9.29" height="5.85" rx="2"/><rect x="350.36" y="402.78" width="9.29" height="5.85" rx="2"/><rect x="417.86" y="402.78" width="9.29" height="5.85" rx="2"/><rect x="462.86" y="402.78" width="9.29" height="5.85" rx="2"/><rect x="563.76" y="402.78" width="9.29" height="5.85" rx="2"/></g></g><g filter="url(#b0)"><path d="M74.9 238.1h7.8M106.4 238.1h7.8M167.4 238.1h7.8M194.9 238.1h7.8M221.1 238.1h7.8M247.4 238.1h7.8M299.9 238.1h7.8M327.4 238.1h7.8M353.6 238.1h7.8M379.9 238.1h7.8M431.6 238.1h7.8M458.1 238.1h7.8M484.1 238.1h7.8M510.6 238.1h7.8M570 238.1h7.8M600.9 238.1h7.8M78.05 251.84h7.69M109.13 251.84h7.69M169.56 251.84h7.69M196.62 251.84h7.69M222.51 251.84h7.69M248.49 251.84h7.69M300.37 251.84h7.69M327.56 251.84h7.69M353.45 251.84h7.69M379.43 251.84h7.69M430.58 251.84h7.69M456.75 251.84h7.69M482.45 251.84h7.69M508.73 251.84h7.69M567.47 251.84h7.69M597.93 251.84h7.69M81.23 265.67h7.57M171.73 265.67h7.57M223.93 265.67h7.57M300.85 265.67h7.57M353.3 265.67h7.57M429.55 265.67h7.57M480.8 265.67h7.57M594.95 265.67h7.57M84.27 278.91h7.46M114.51 278.91h7.46M173.81 278.91h7.46M200 278.91h7.46M225.29 278.91h7.46M250.65 278.91h7.46M301.3 278.91h7.46M327.87 278.91h7.46M353.15 278.91h7.46M378.52 278.91h7.46M428.56 278.91h7.46M454.08 278.91h7.46M479.21 278.91h7.46M505.05 278.91h7.46M562.5 278.91h7.46M592.09 278.91h7.46M87.1 291.24h7.36M116.96 291.24h7.36M175.75 291.24h7.36M201.54 291.24h7.36M226.56 291.24h7.36M251.64 291.24h7.36M301.73 291.24h7.36M328.01 291.24h7.36M353.02 291.24h7.36M378.1 291.24h7.36M427.64 291.24h7.36M452.86 291.24h7.36M477.74 291.24h7.36M503.37 291.24h7.36M560.23 291.24h7.36M589.43 291.24h7.36M90.07 304.17h7.25M119.53 304.17h7.25M177.78 304.17h7.25M203.16 304.17h7.25M227.88 304.17h7.25M252.67 304.17h7.25M302.17 304.17h7.25M328.15 304.17h7.25M352.88 304.17h7.25M377.66 304.17h7.25M426.68 304.17h7.25M451.58 304.17h7.25M476.19 304.17h7.25M501.61 304.17h7.25M557.85 304.17h7.25M586.64 304.17h7.25M121.97 316.41h7.15M204.69 316.41h7.15M253.64 316.41h7.15M328.29 316.41h7.15M377.24 316.41h7.15M450.38 316.41h7.15M499.94 316.41h7.15M555.6 316.41h7.15M97.67 337.26h6.98M126.11 337.26h6.98M182.98 337.26h6.98M207.3 337.26h6.98M231.28 337.26h6.98M255.3 337.26h6.98M303.31 337.26h6.98M328.53 337.26h6.98M352.51 337.26h6.98M376.54 337.26h6.98M424.22 337.26h6.98M448.32 337.26h6.98M472.22 337.26h6.98M497.11 337.26h6.98M551.77 337.26h6.98M579.49 337.26h6.98M100.45 349.39h6.88M128.52 349.39h6.88M184.88 349.39h6.88M208.82 349.39h6.88M232.53 349.39h6.88M256.27 349.39h6.88M303.73 349.39h6.88M328.67 349.39h6.88M352.38 349.39h6.88M376.12 349.39h6.88M423.32 349.39h6.88M447.13 349.39h6.88M470.77 349.39h6.88M495.45 349.39h6.88M549.54 349.39h6.88M576.87 349.39h6.88M103.1 360.92h6.78M186.69 360.92h6.78M233.71 360.92h6.78M304.12 360.92h6.78M352.25 360.92h6.78M422.46 360.92h6.78M469.39 360.92h6.78M574.39 360.92h6.78M105.52 371.45h6.69M132.91 371.45h6.69M188.35 371.45h6.69M211.57 371.45h6.69M234.79 371.45h6.69M258.03 371.45h6.69M304.48 371.45h6.69M328.92 371.45h6.69M352.14 371.45h6.69M375.37 371.45h6.69M421.67 371.45h6.69M444.95 371.45h6.69M468.13 371.45h6.69M492.45 371.45h6.69M545.48 371.45h6.69M572.11 371.45h6.69M108.05 382.48h6.6M135.1 382.48h6.6M190.08 382.48h6.6M212.95 382.48h6.6M235.92 382.48h6.6M258.91 382.48h6.6M304.86 382.48h6.6M329.05 382.48h6.6M352.02 382.48h6.6M375 382.48h6.6M420.85 382.48h6.6M443.86 382.48h6.6M466.81 382.48h6.6M490.95 382.48h6.6M543.46 382.48h6.6M569.73 382.48h6.6M110.47 393.01h6.52M137.19 393.01h6.52M191.73 393.01h6.52M214.27 393.01h6.52M237.01 393.01h6.52M259.75 393.01h6.52M305.22 393.01h6.52M329.17 393.01h6.52M351.9 393.01h6.52M374.64 393.01h6.52M420.07 393.01h6.52M442.82 393.01h6.52M465.55 393.01h6.52M489.52 393.01h6.52M541.52 393.01h6.52M567.46 393.01h6.52M139.29 403.53h6.43M215.59 403.53h6.43M260.59 403.53h6.43M329.29 403.53h6.43M374.29 403.53h6.43M441.79 403.53h6.43M488.09 403.53h6.43M539.59 403.53h6.43" stroke="#9a8c2e" stroke-opacity=".62" stroke-width="1.3" fill="none"/><path d="M111.79 265.08h7.75M198.26 265.08h7.75M249.51 265.08h7.75M327.63 265.08h7.75M378.88 265.08h7.75M455.29 265.08h7.75M506.76 265.08h7.75M564.84 265.08h7.75M92.81 315.83h7.28M179.63 315.83h7.28M229.07 315.83h7.28M302.52 315.83h7.28M352.67 315.83h7.28M425.7 315.83h7.28M474.65 315.83h7.28M583.93 315.83h7.28M130.77 360.35h6.88M210.21 360.35h6.88M257.14 360.35h6.88M328.75 360.35h6.88M375.68 360.35h6.88M445.94 360.35h6.88M493.84 360.35h6.88M547.37 360.35h6.88M112.86 402.98h6.49M193.36 402.98h6.49M238.06 402.98h6.49M305.56 402.98h6.49M351.76 402.98h6.49M419.26 402.98h6.49M464.26 402.98h6.49M565.16 402.98h6.49" stroke="#8f9092" stroke-opacity=".5" stroke-width="1.1" fill="none"/><g fill="#ff5a3c" fill-opacity=".55" filter="url(#b3)"><rect x="135.3" y="238.1" width="7.2" height="4.4"/><rect x="270.2" y="238.1" width="7.2" height="4.4"/><rect x="405.9" y="238.1" width="7.2" height="4.4"/><rect x="540.2" y="238.1" width="7.2" height="4.4"/><rect x="140.12" y="265.65" width="7.03" height="4.3"/><rect x="271.87" y="265.65" width="7.03" height="4.3"/><rect x="404.4" y="265.65" width="7.03" height="4.3"/><rect x="535.7" y="265.65" width="7.03" height="4.3"/><rect x="144.58" y="291.2" width="6.88" height="4.2"/><rect x="273.41" y="291.2" width="6.88" height="4.2"/><rect x="403.01" y="291.2" width="6.88" height="4.2"/><rect x="531.53" y="291.2" width="6.88" height="4.2"/><rect x="156.76" y="360.83" width="6.45" height="3.94"/><rect x="277.63" y="360.83" width="6.45" height="3.94"/><rect x="399.22" y="360.83" width="6.45" height="3.94"/><rect x="520.16" y="360.83" width="6.45" height="3.94"/><rect x="160.53" y="382.37" width="6.32" height="3.86"/><rect x="278.93" y="382.37" width="6.32" height="3.86"/><rect x="398.05" y="382.37" width="6.32" height="3.86"/><rect x="516.64" y="382.37" width="6.32" height="3.86"/><rect x="164.2" y="403.41" width="6.19" height="3.78"/><rect x="280.2" y="403.41" width="6.19" height="3.78"/><rect x="396.9" y="403.41" width="6.19" height="3.78"/><rect x="513.2" y="403.41" width="6.19" height="3.78"/></g><g fill="#de2110"><rect x="135.3" y="238.1" width="7.2" height="4.4"/><rect x="270.2" y="238.1" width="7.2" height="4.4"/><rect x="405.9" y="238.1" width="7.2" height="4.4"/><rect x="540.2" y="238.1" width="7.2" height="4.4"/><rect x="140.12" y="265.65" width="7.03" height="4.3"/><rect x="271.87" y="265.65" width="7.03" height="4.3"/><rect x="404.4" y="265.65" width="7.03" height="4.3"/><rect x="535.7" y="265.65" width="7.03" height="4.3"/><rect x="144.58" y="291.2" width="6.88" height="4.2"/><rect x="273.41" y="291.2" width="6.88" height="4.2"/><rect x="403.01" y="291.2" width="6.88" height="4.2"/><rect x="531.53" y="291.2" width="6.88" height="4.2"/><rect x="156.76" y="360.83" width="6.45" height="3.94"/><rect x="277.63" y="360.83" width="6.45" height="3.94"/><rect x="399.22" y="360.83" width="6.45" height="3.94"/><rect x="520.16" y="360.83" width="6.45" height="3.94"/><rect x="160.53" y="382.37" width="6.32" height="3.86"/><rect x="278.93" y="382.37" width="6.32" height="3.86"/><rect x="398.05" y="382.37" width="6.32" height="3.86"/><rect x="516.64" y="382.37" width="6.32" height="3.86"/><rect x="164.2" y="403.41" width="6.19" height="3.78"/><rect x="280.2" y="403.41" width="6.19" height="3.78"/><rect x="396.9" y="403.41" width="6.19" height="3.78"/><rect x="513.2" y="403.41" width="6.19" height="3.78"/></g><g fill="#f7a090" stroke="#701300" stroke-width="1.7"><rect x="149.84" y="317.1" width="5" height="2.6"/><rect x="275.8" y="317.1" width="5" height="2.6"/><rect x="402.5" y="317.1" width="5" height="2.6"/><rect x="528.28" y="317.1" width="5" height="2.6"/><rect x="153.42" y="337.9" width="5" height="2.6"/><rect x="276.99" y="337.9" width="5" height="2.6"/><rect x="401.31" y="337.9" width="5" height="2.6"/><rect x="524.82" y="337.9" width="5" height="2.6"/></g><g fill="#fff1c4" fill-opacity=".85"><ellipse cx="96.4" cy="246.8" rx="5.7" ry="3.9"/><ellipse cx="342.5" cy="246.6" rx="5.7" ry="3.9"/><ellipse cx="587" cy="246.6" rx="5.7" ry="3.9"/><ellipse cx="128.2" cy="399.6" rx="5.7" ry="3.9"/><ellipse cx="342.6" cy="399.4" rx="5.7" ry="3.9"/><ellipse cx="555.6" cy="399.4" rx="5.7" ry="3.9"/><ellipse cx="233.4" cy="328.7" rx="5.7" ry="3.9"/><ellipse cx="450.9" cy="328.7" rx="5.7" ry="3.9"/></g><g fill="#0d0a04"><ellipse cx="96.4" cy="246.8" rx="4.5" ry="2.7"/><ellipse cx="342.5" cy="246.6" rx="4.5" ry="2.7"/><ellipse cx="587" cy="246.6" rx="4.5" ry="2.7"/><ellipse cx="128.2" cy="399.6" rx="4.5" ry="2.7"/><ellipse cx="342.6" cy="399.4" rx="4.5" ry="2.7"/><ellipse cx="555.6" cy="399.4" rx="4.5" ry="2.7"/><ellipse cx="233.4" cy="328.7" rx="4.5" ry="2.7"/><ellipse cx="450.9" cy="328.7" rx="4.5" ry="2.7"/></g></g><g stroke="#4a4418" stroke-width=".9" stroke-linecap="round" fill="none"><path d="M251.8 332.6V324.2M251.8 331.2L246.4 326.8M251.8 331.2L257.2 326.8M251.8 331.6L245.4 331M251.8 331.6L258.2 331M251.8 331.2L249 324.8M251.8 331.2L254.6 324.8"/></g><text x="265.6" y="332.3" font-size="9.6" textLength="176" lengthAdjust="spacingAndGlyphs" style="fill:#453f16;stroke:#453f16;stroke-width:.55px">DERUIKEER</text></g>
</svg>
</body></html>
